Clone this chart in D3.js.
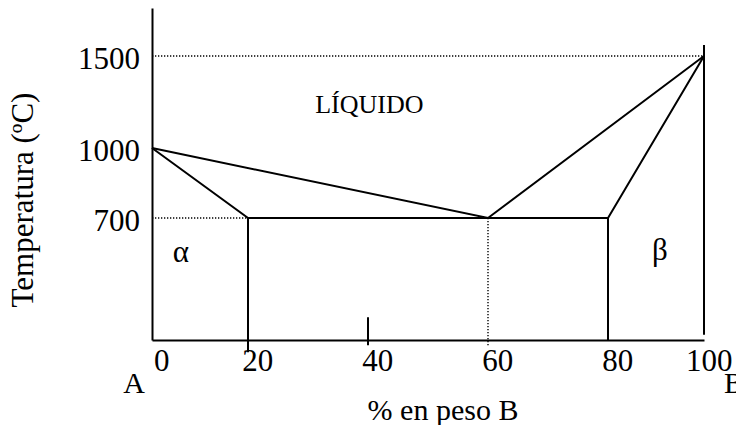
<!DOCTYPE html>
<html>
<head>
<meta charset="utf-8">
<script src="https://cdn.jsdelivr.net/npm/d3@7"></script>
<style>
  body { margin: 0; background: #fff; }
  svg text { font-family: "Liberation Serif", "Times New Roman", serif; fill: #000; }
</style>
</head>
<body>
<div id="diagram"></div>
<script>
// Composition ticks (% B) and temperature ticks (ºC)
const compTicks = [0, 20, 40, 60, 80, 100]
const tempTicks = [700, 1000, 1500]

// Phase boundaries, as [% B, ºC]
const liquidus = [[0, 1000], [60, 700], [100, 1500]]
const solidusA = [[0, 1000], [20, 700], [20, -70]]
const solidusB = [[100, 1500], [80, 700], [80, 0]]
const eutectic = [[20, 700], [80, 700]]
const pureB = [[100, 1560], [100, 30]]
const tick40 = [[40, 130], [40, -30]]

// Dotted guide lines
const guides = [
  [[0, 1500], [100, 1500]],
  [[0, 700], [20, 700]],
  [[60, 700], [60, -30]]
]

// Region labels
const regionNames = ["LÍQUIDO", "α", "β"]
const regionComp = [31.2, 6, 90.8]
const regionTemp = [1190, 448, 459]

const W = 736, H = 425
const serif = '"Liberation Serif", "Times New Roman", serif'

const svg = d3.select("#diagram")
  .append("svg")
  .attr("width", W)
  .attr("height", H)
  .style("background", "#fff")

// the original sketch is not evenly spaced, so use piecewise scales
const x = d3.scaleLinear()
  .domain(compTicks)
  .range([152, 248, 368, 488, 608, 704])

const y = d3.scaleLinear()
  .domain([0, 700, 1000, 1500, 1760])
  .range([340, 218, 148, 56, 8])

const line = d3.line()
  .x(d => x(d[0]))
  .y(d => y(d[1]))

// dotted guides
svg.selectAll(".guide")
  .data(guides)
  .enter()
  .append("path")
  .attr("class", "guide")
  .attr("d", line)
  .attr("fill", "none")
  .attr("stroke", "#000")
  .attr("stroke-width", 1.4)
  .attr("stroke-dasharray", "1.3 1.7")

// Y axis
const yAxis = svg.append("g")
  .attr("transform", "translate(" + x(0) + ",0)")
  .call(d3.axisLeft(y).tickValues(tempTicks).tickFormat(d3.format("d"))
    .tickSize(0).tickPadding(12))
yAxis.select(".domain").attr("stroke-width", 2)
yAxis.selectAll("text")
  .style("font-family", serif)
  .style("font-size", "31px")
  .attr("dy", "0.4em")

// X axis
const xAxis = svg.append("g")
  .attr("transform", "translate(0," + y(0) + ")")
  .call(d3.axisBottom(x).tickValues(compTicks).tickFormat(d3.format("d"))
    .tickSize(0).tickPadding(9))
xAxis.select(".domain").attr("stroke-width", 2)
xAxis.selectAll("text")
  .style("font-family", serif)
  .style("font-size", "31px")
  .attr("dx", d => d === 100 ? "0.15em" : "0.3em")

// phase boundaries
const boundaries = [liquidus, solidusA, solidusB, eutectic, pureB, tick40]
svg.selectAll(".boundary")
  .data(boundaries)
  .enter()
  .append("path")
  .attr("class", "boundary")
  .attr("d", line)
  .attr("fill", "none")
  .attr("stroke", "#000")
  .attr("stroke-width", 2)

// region labels
svg.selectAll(".region")
  .data(regionNames)
  .enter()
  .append("text")
  .attr("class", "region")
  .attr("x", (d, i) => x(regionComp[i]))
  .attr("y", (d, i) => y(regionTemp[i]))
  .attr("text-anchor", (d, i) => i === 0 ? "start" : "middle")
  .style("font-family", serif)
  .style("font-size", (d, i) => i === 0 ? "26px" : "31px")
  .text(d => d)

// axis titles
svg.append("text")
  .attr("transform", "translate(33,200) rotate(-90)")
  .attr("text-anchor", "middle")
  .style("font-family", serif)
  .style("font-size", "31px")
  .text("Temperatura (ºC)")

svg.append("text")
  .attr("x", 443)
  .attr("y", 420)
  .attr("text-anchor", "middle")
  .style("font-family", serif)
  .style("font-size", "30px")
  .text("% en peso B")

svg.append("text")
  .attr("x", x(0) - 18)
  .attr("y", 393)
  .attr("text-anchor", "middle")
  .style("font-family", serif)
  .style("font-size", "30px")
  .text("A")

svg.append("text")
  .attr("x", x(100) + 20)
  .attr("y", 393)
  .style("font-family", serif)
  .style("font-size", "30px")
  .text("B")
</script>
</body>
</html>
